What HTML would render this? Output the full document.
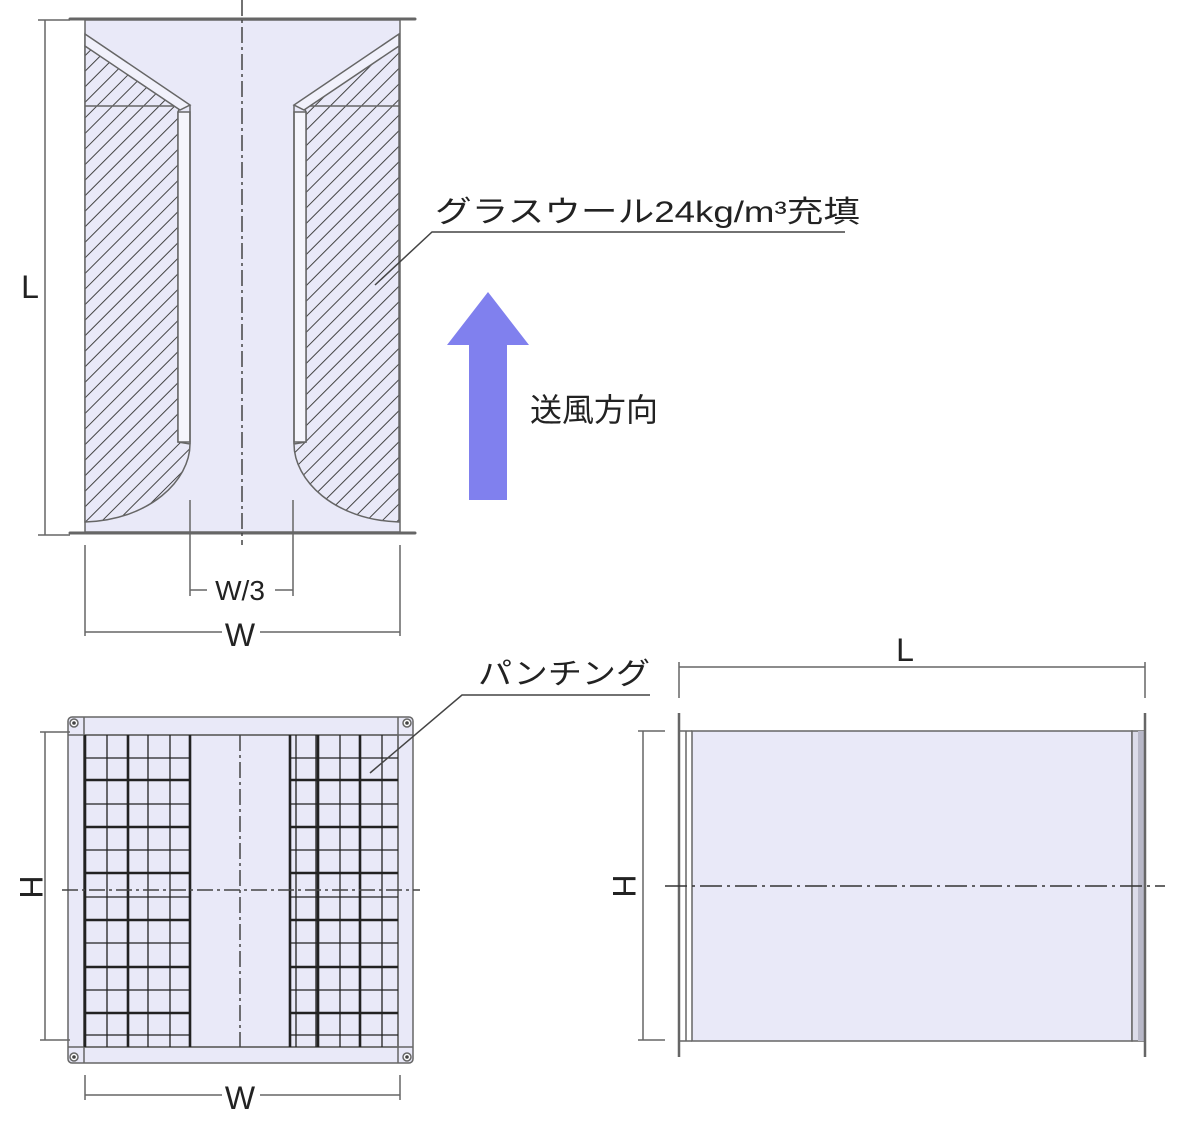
<!DOCTYPE html>
<html><head><meta charset="utf-8"><style>
html,body{margin:0;padding:0;background:#fff}
svg{display:block}
text{font-family:"Liberation Sans","Noto Sans CJK JP",sans-serif;fill:#222}
</style></head><body>
<svg width="1181" height="1124" viewBox="0 0 1181 1124" xmlns="http://www.w3.org/2000/svg">
<defs>
<pattern id="h" patternUnits="userSpaceOnUse" width="11" height="11" patternTransform="rotate(-45)">
<rect width="11" height="11" fill="#e9e9f8"/><line x1="0" y1="0" x2="11" y2="0" stroke="#444" stroke-width="2"/>
</pattern>
</defs>
<g stroke="#666" stroke-width="1.5" fill="none">
<rect x="85" y="20" width="315" height="512" fill="#e9e9f8"/>
<line x1="70" y1="19" x2="415" y2="19" stroke-width="3" stroke-linecap="round"/>
<line x1="70" y1="533" x2="415" y2="533" stroke-width="3" stroke-linecap="round"/>
<path d="M85,46 L180,107 L178,112 L178,442 L190,444 C190,480 150,520 85,522 Z" fill="url(#h)"/>
<path d="M399,46 L304,107 L306,112 L306,442 L294,444 C294,480 334,520 399,522 Z" fill="url(#h)"/>
<line x1="85" y1="106" x2="180" y2="106"/><line x1="304" y1="106" x2="399" y2="106"/>
<path d="M85,34 L190,105 L180,110 L85,46 Z" fill="#f1f1fb"/>
<path d="M399,34 L294,105 L304,110 L399,46 Z" fill="#f1f1fb"/>
<rect x="178" y="112" width="12" height="330" fill="#f5f5fc"/>
<rect x="294" y="112" width="12" height="330" fill="#f5f5fc"/>
<line x1="190" y1="105" x2="190" y2="444"/><line x1="294" y1="105" x2="294" y2="444"/>
<line x1="242" y1="0" x2="242" y2="545" stroke-dasharray="16,4,3,4" stroke="#444"/>
<line x1="45" y1="20" x2="45" y2="535"/>
<line x1="38" y1="20" x2="70" y2="20"/><line x1="38" y1="535" x2="70" y2="535"/>
<line x1="190" y1="500" x2="190" y2="596"/><line x1="293" y1="500" x2="293" y2="596"/>
<line x1="190" y1="590" x2="207" y2="590"/><line x1="275" y1="590" x2="293" y2="590"/>
<line x1="85" y1="545" x2="85" y2="636"/><line x1="400" y1="545" x2="400" y2="636"/>
<line x1="85" y1="632" x2="222" y2="632"/><line x1="260" y1="632" x2="400" y2="632"/>
<polyline points="375,285 432,232 845,232" stroke="#444"/>
<rect x="68" y="717" width="345" height="346" rx="4" fill="#e9e9f8"/>
<rect x="84" y="735" width="314" height="312"/>
<line x1="68" y1="735" x2="413" y2="735"/><line x1="68" y1="1047" x2="413" y2="1047"/>
<line x1="84" y1="717" x2="84" y2="1063"/><line x1="398" y1="717" x2="398" y2="1063"/>
<g stroke="#222">
<path d="M84,758H190M84,804H190M84,850H190M84,897H190M84,943H190M84,990H190M84,1035H190M290,758H398M290,804H398M290,850H398M290,897H398M290,943H398M290,990H398M290,1035H398" stroke-width="1.3"/>
<path d="M84,780H190M84,827H190M84,873H190M84,920H190M84,967H190M84,1013H190M290,780H398M290,827H398M290,873H398M290,920H398M290,967H398M290,1013H398" stroke-width="2.6"/>
<path d="M107,735V1047M148,735V1047M170,735V1047M296,735V1047M316,735V1047M340,735V1047M382,735V1047" stroke-width="1.3"/>
<path d="M85,735V1047M128,735V1047M190,735V1047M290,735V1047M318,735V1047M360,735V1047" stroke-width="2.6"/>
</g>
<line x1="240" y1="735" x2="240" y2="1047" stroke-dasharray="16,4,3,4" stroke="#444"/>
<line x1="62" y1="890" x2="420" y2="890" stroke-dasharray="16,4,3,4" stroke="#444"/>
<g fill="#fff"><circle cx="74" cy="723" r="4"/><circle cx="407" cy="723" r="4"/><circle cx="74" cy="1057" r="4"/><circle cx="407" cy="1057" r="4"/></g>
<g fill="#444" stroke="none"><circle cx="74" cy="723" r="1.8"/><circle cx="407" cy="723" r="1.8"/><circle cx="74" cy="1057" r="1.8"/><circle cx="407" cy="1057" r="1.8"/></g>
<line x1="45" y1="732" x2="45" y2="1040"/>
<line x1="40" y1="732" x2="70" y2="732"/><line x1="40" y1="1040" x2="70" y2="1040"/>
<line x1="85" y1="1075" x2="85" y2="1100"/><line x1="400" y1="1075" x2="400" y2="1100"/>
<line x1="85" y1="1095" x2="222" y2="1095"/><line x1="260" y1="1095" x2="400" y2="1095"/>
<polyline points="370,773 462,695 650,695" stroke="#444"/>
<rect x="692" y="731" width="440" height="310" fill="#e9e9f8"/>
<line x1="679" y1="713" x2="679" y2="1057" stroke-width="2.5"/>
<line x1="679" y1="731" x2="692" y2="731"/><line x1="679" y1="1041" x2="692" y2="1041"/>
<line x1="686" y1="731" x2="686" y2="1041"/>
<rect x="1132" y="731" width="13" height="310" fill="#dcdcea"/>
<rect x="1138" y="731" width="7" height="310" fill="#b8b8c8" stroke="none"/>
<line x1="1145" y1="713" x2="1145" y2="1057" stroke-width="2.5"/>
<line x1="665" y1="886" x2="1165" y2="886" stroke-dasharray="22,5,3,5" stroke="#333"/>
<line x1="679" y1="667" x2="1145" y2="667"/>
<line x1="679" y1="662" x2="679" y2="698"/><line x1="1145" y1="662" x2="1145" y2="698"/>
<line x1="643" y1="731" x2="643" y2="1040"/>
<line x1="638" y1="731" x2="665" y2="731"/><line x1="638" y1="1040" x2="665" y2="1040"/>
</g>
<polygon points="488,292 529,345 507,345 507,500 469,500 469,345 447,345" fill="#8080ee"/>
<text x="30" y="298" font-size="32" text-anchor="middle">L</text>
<text x="240" y="600" font-size="28" text-anchor="middle">W/3</text>
<text x="240" y="646" font-size="32" text-anchor="middle">W</text>
<text x="435" y="222" font-size="30" textLength="425" lengthAdjust="spacingAndGlyphs">グラスウール24kg/m³充填</text>
<text x="530" y="421" font-size="32">送風方向</text>
<text x="478" y="684" font-size="30" textLength="172" lengthAdjust="spacingAndGlyphs">パンチング</text>
<text x="240" y="1109" font-size="32" text-anchor="middle">W</text>
<text x="905" y="661" font-size="32" text-anchor="middle">L</text>
<text transform="translate(20,887) rotate(90)" font-size="32" text-anchor="middle">H</text>
<text transform="translate(613,886) rotate(90)" font-size="32" text-anchor="middle">H</text>
</svg>
</body></html>
